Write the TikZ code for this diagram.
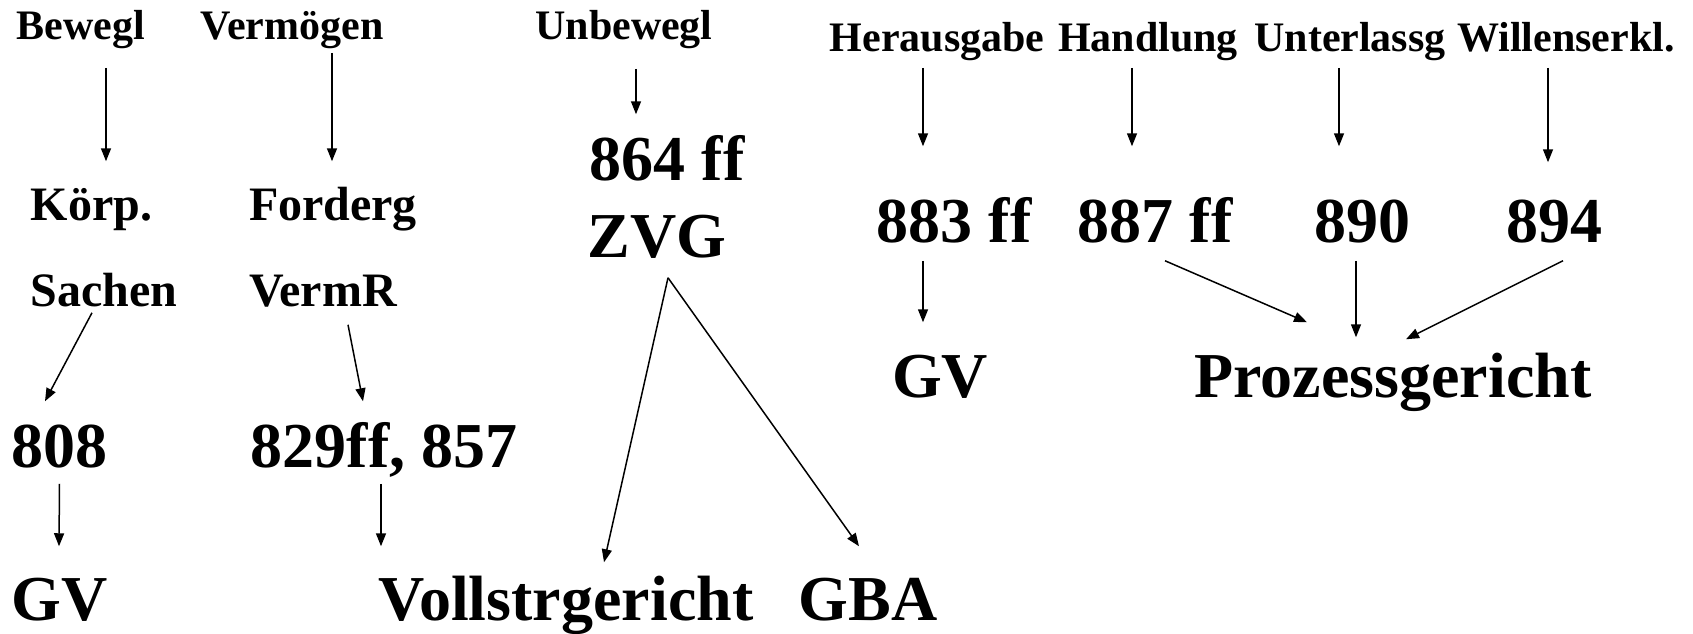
\documentclass[tikz,border=0pt]{standalone}
\usepackage{fontspec}
\setmainfont{Liberation Serif}
\usetikzlibrary{arrows.meta}

\begin{document}
\begin{tikzpicture}[x=1pt, y=-1pt, >={Triangle[length=13pt,width=10pt]}, line width=1.5pt,
  small/.style={font=\fontsize{42}{46}\selectfont\bfseries, inner sep=0pt, anchor=base, text height=30pt, text depth=9pt},
  mid/.style={font=\fontsize{48}{52}\selectfont\bfseries, inner sep=0pt, anchor=base, text height=33pt, text depth=10pt},
  big/.style={font=\fontsize{64}{70}\selectfont\bfseries, inner sep=0pt, anchor=base, text height=43pt, text depth=14pt}]
\useasboundingbox (0,0) rectangle (1693,633);
\node[small] (bewegl) at (81,39) {Bewegl};
\node[small] (vermoegen) at (292,39) {Vermögen};
\node[small] (unbewegl) at (624,39) {Unbewegl};
\node[small] (herausgabe) at (937,51) {Herausgabe};
\node[small] (handlung) at (1148,51) {Handlung};
\node[small] (unterlassg) at (1350,51) {Unterlassg};
\node[small] (willenserkl) at (1566,51) {Willenserkl.};
\node[mid] (koerp) at (91.5,220) {Körp.};
\node[mid] (forderg) at (333,220) {Forderg};
\node[mid] (sachen) at (104,306) {Sachen};
\node[mid] (vermr) at (323,306) {VermR};
\node[big] (n808) at (59.5,467) {808};
\node[big] (n829) at (384,467) {829ff, 857};
\node[big] (gvl) at (60,620) {GV};
\node[big] (vollstr) at (566,620) {Vollstrgericht};
\node[big] (gba) at (868,620) {GBA};
\node[big] (n864) at (667,180) {864 ff};
\node[big] (zvg) at (657,257) {ZVG};
\node[big] (n883) at (954,242) {883 ff};
\node[big] (n887) at (1155,242) {887 ff};
\node[big] (n890) at (1362,242) {890};
\node[big] (n894) at (1554,242) {894};
\node[big] (gvr) at (940,397) {GV};
\node[big] (prozess) at (1393,397) {Prozessgericht};
\draw[->] ([xshift=25pt,yshift=-19pt]bewegl.south) -- ([xshift=14.5pt,yshift=25pt]koerp.north);
\draw[->] ([xshift=40pt,yshift=-4pt]vermoegen.south) -- ([xshift=-1pt,yshift=25pt]forderg.north);
\draw[->] ([xshift=-12pt,yshift=4pt]sachen.south) -- ([xshift=-14.5pt,yshift=22pt]n808.north);
\draw[->] ([xshift=25pt,yshift=-8pt]vermr.south) -- ([xshift=-21pt,yshift=22pt]n829.north);
\draw[->] ([yshift=-2pt]n808.south) -- ([xshift=-1pt,yshift=30pt]gvl.north);
\draw[->] ([xshift=-3pt,yshift=-2pt]n829.south) -- ([xshift=-185pt,yshift=30pt]vollstr.north);
\draw[->] ([xshift=12pt,yshift=-20pt]unbewegl.south) -- ([xshift=-31pt,yshift=22pt]n864.north);
\draw[->] ([xshift=11pt,yshift=-6pt]zvg.south) -- ([xshift=38pt,yshift=14pt]vollstr.north);
\draw[->] ([xshift=11pt,yshift=-6pt]zvg.south) -- ([xshift=-9pt,yshift=30pt]gba.north);
\draw[->] ([xshift=-14pt,yshift=-7pt]herausgabe.south) -- ([xshift=-31pt,yshift=52pt]n883.north);
\draw[->] ([xshift=-16pt,yshift=-7pt]handlung.south) -- ([xshift=-23pt,yshift=52pt]n887.north);
\draw[->] ([xshift=-11pt,yshift=-7pt]unterlassg.south) -- ([xshift=-23pt,yshift=52pt]n890.north);
\draw[->] ([xshift=-18pt,yshift=-7pt]willenserkl.south) -- ([xshift=-6pt,yshift=36pt]n894.north);
\draw[->] ([xshift=-31pt,yshift=-4pt]n883.south) -- ([xshift=-17pt,yshift=31pt]gvr.north);
\draw[->] ([xshift=10pt,yshift=-4pt]n887.south) -- ([xshift=-86pt,yshift=31pt]prozess.north);
\draw[->] ([xshift=-6pt,yshift=-4pt]n890.south) -- ([xshift=-37pt,yshift=16pt]prozess.north);
\draw[->] ([xshift=9pt,yshift=-4pt]n894.south) -- ([xshift=13pt,yshift=14pt]prozess.north);
\end{tikzpicture}
\end{document}
